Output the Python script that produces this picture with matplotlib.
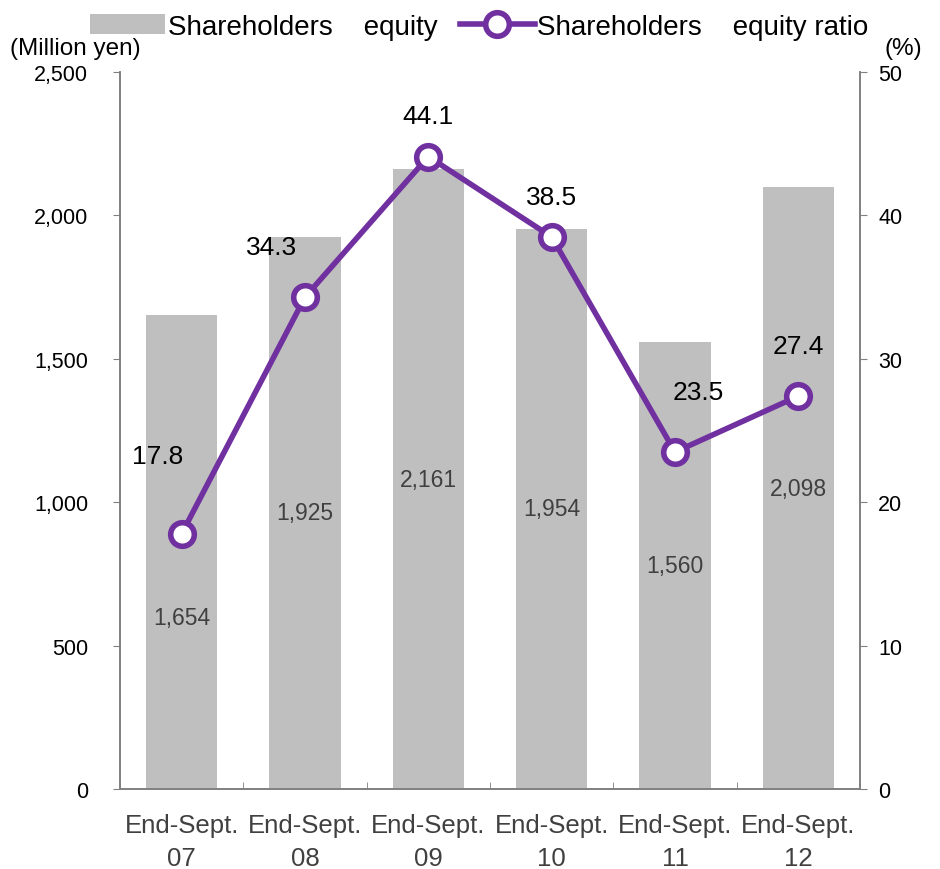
import matplotlib
matplotlib.use("Agg")
import matplotlib.pyplot as plt
from matplotlib.ticker import FuncFormatter, FixedLocator
import numpy as np

plt.rcParams['font.family'] = ['Liberation Sans', 'DejaVu Sans']

categories = ["End-Sept.\n07", "End-Sept.\n08", "End-Sept.\n09", "End-Sept.\n10", "End-Sept.\n11", "End-Sept.\n12"]
equity = [1654, 1925, 2161, 1954, 1560, 2098]
ratio = [17.8, 34.3, 44.1, 38.5, 23.5, 27.4]

bar_color = "#BFBFBF"
line_color = "#7030A0"
spine_color = "#808080"

fig = plt.figure(figsize=(9.4, 8.7), dpi=100)
ax = fig.add_axes([120/940, 1-790/870, 740/940, 717/870])
x = np.arange(len(categories))

ax.bar(x, equity, width=0.58, color=bar_color, zorder=1, label="Shareholders    equity")
ax.set_xlim(-0.5, len(categories) - 0.5)
ax.set_ylim(0, 2500)
ax.set_yticks([0, 500, 1000, 1500, 2000, 2500])
ax.yaxis.set_major_formatter(FuncFormatter(lambda v, p: f"{int(v):,}"))
ax.set_xticks(x)
ax.set_xticklabels(categories, fontsize=18.5, color="#404040", linespacing=1.5)
ax.xaxis.set_minor_locator(FixedLocator(np.arange(-0.5, len(categories), 1.0)))
ax.tick_params(axis='x', which='major', length=0, pad=17)
ax.tick_params(axis='x', which='minor', length=5, direction='in', color=spine_color)
ax.tick_params(axis='y', labelsize=15.5, length=5, color=spine_color, pad=18)
ax.spines['top'].set_visible(False)
for s in ['left', 'bottom', 'right']:
    ax.spines[s].set_color(spine_color)
    ax.spines[s].set_linewidth(1.2)

# bar value labels
for i, v in enumerate(equity):
    off = -47 if i == 0 else 0
    ax.annotate(f"{v:,}", (x[i], v / 2), xytext=(0, off), textcoords='offset points',
                ha='center', va='center', fontsize=16.5, color="#404040")

ax2 = ax.twinx()
ax2.set_ylim(0, 50)
ax2.set_yticks([0, 10, 20, 30, 40, 50])
ax2.tick_params(axis='y', labelsize=15.5, length=5, color=spine_color, pad=8)
ax2.spines['top'].set_visible(False)
for s in ['left', 'bottom', 'right']:
    ax2.spines[s].set_color(spine_color)
    ax2.spines[s].set_linewidth(1.2)
ax2.plot(x, ratio, color=line_color, lw=4, marker='o', markersize=17,
         markerfacecolor='white', markeredgecolor=line_color, markeredgewidth=4,
         zorder=3, label="Shareholders    equity ratio")

offsets = [(-17, 56), (-24, 36), (0, 29), (0, 29), (17, 43), (0, 36)]
for i, v in enumerate(ratio):
    ax2.annotate(f"{v}", (x[i], v), xytext=offsets[i], textcoords='offset points',
                 ha='center', va='center', fontsize=19, color="black")

h1, l1 = ax.get_legend_handles_labels()
h2, l2 = ax2.get_legend_handles_labels()
fig.legend(h1 + h2, l1 + l2, loc='upper center', bbox_to_anchor=(0.51, 1.012), ncol=2,
           frameon=False, fontsize=20, handlelength=2.7, handletextpad=0.1, columnspacing=0.8)

fig.text(10/940, 1-49/870, "(Million yen)", fontsize=17.5, ha='left', va='center')
fig.text(922/940, 1-49/870, "(%)", fontsize=17.5, ha='right', va='center')

fig.savefig("out.png", dpi=100)
